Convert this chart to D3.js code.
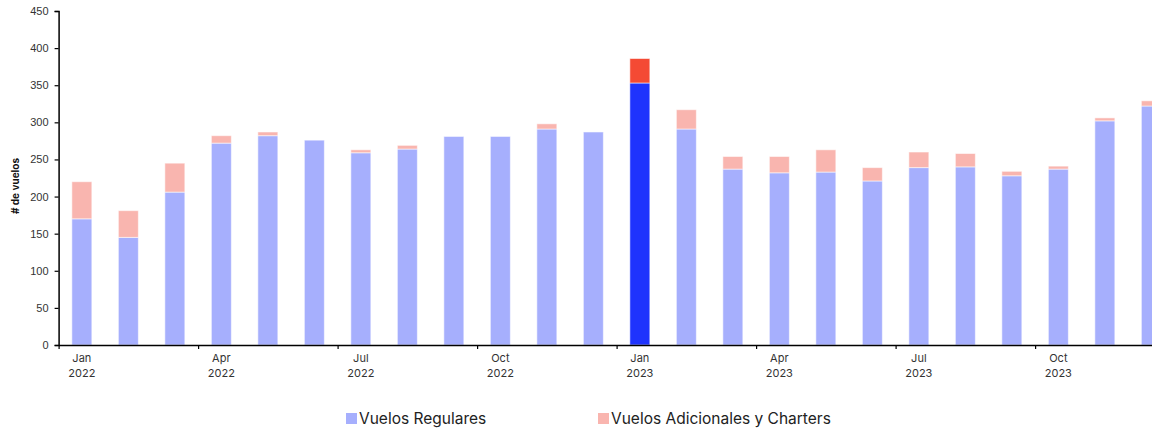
<!DOCTYPE HTML>
<html lang="es">
<head>
<meta charset="utf-8" />
<title>Vuelos</title>
<style>
  body { margin: 0; background: #fff; }
  svg { display: block; font-family: Inter, "DejaVu Sans", sans-serif; }
</style>
</head>
<body>
<div id="chart"></div>
<script src="https://d3js.org/d3.v7.min.js"></script>
<script>
const meses = ["2022-01","2022-02","2022-03","2022-04","2022-05","2022-06","2022-07","2022-08","2022-09","2022-10","2022-11","2022-12",
               "2023-01","2023-02","2023-03","2023-04","2023-05","2023-06","2023-07","2023-08","2023-09","2023-10","2023-11","2023-12"];
const regulares =   [170, 145, 206, 272, 282, 276, 259, 264, 281, 281, 291, 287,
                     353, 291, 237, 232, 233, 221, 239, 240, 228, 237, 302, 322];
const adicionales = [50, 36, 39, 10, 5, 0, 4, 5, 0, 0, 7, 0,
                     33, 26, 17, 22, 30, 18, 21, 18, 6, 4, 4, 7];
const destacado = "2023-01";
const yTicks = [0, 50, 100, 150, 200, 250, 300, 350, 400, 450];
const mesNombre = { "01": "Jan", "04": "Apr", "07": "Jul", "10": "Oct" };
const series = ["Vuelos Regulares", "Vuelos Adicionales y Charters"];

const width = 1152, height = 430;
const mLeft = 58.6, step = 46.5;
const yTop = 11, yBottom = 345;

const colores = { reg: "#a6affd", adi: "#f9b5af", regD: "#1f33fd", adiD: "#f44a34" };

const svg = d3.select("#chart").append("svg")
    .attr("width", width).attr("height", height);

const xIdx = d3.scaleLinear().domain([0, meses.length]).range([mLeft, mLeft + step * meses.length]);
const x = d3.scaleBand().domain(meses)
    .range([mLeft, mLeft + step * meses.length])
    .paddingInner(0.57).paddingOuter(0.285);
const y = d3.scaleLinear().domain([0, 450]).range([yBottom, yTop]);

const data = meses.map((m, i) => ({ mes: m, reg: regulares[i], adi: adicionales[i] }));

// barras
const g = svg.append("g");
data.forEach(d => {
    const hi = d.mes === destacado;
    g.append("rect")
        .attr("x", x(d.mes)).attr("width", x.bandwidth())
        .attr("y", y(d.reg)).attr("height", y(0) - y(d.reg))
        .attr("fill", hi ? colores.regD : colores.reg)
        .attr("stroke", "rgba(255,255,255,0.55)").attr("stroke-width", 1);
    if (d.adi > 0) {
        g.append("rect")
            .attr("x", x(d.mes)).attr("width", x.bandwidth())
            .attr("y", y(d.reg + d.adi)).attr("height", y(d.reg) - y(d.reg + d.adi))
            .attr("fill", hi ? colores.adiD : colores.adi)
            .attr("stroke", "rgba(255,255,255,0.55)").attr("stroke-width", 1);
    }
});

// eje y
const yAxis = svg.append("g")
    .attr("transform", `translate(${mLeft},0)`)
    .call(d3.axisLeft(y).tickValues(yTicks).tickSize(4).tickPadding(6));
yAxis.select(".domain").attr("stroke", "#000").attr("stroke-width", 1.5);
yAxis.selectAll(".tick line").attr("stroke", "#000").attr("stroke-width", 1.2);
yAxis.selectAll(".tick text").attr("fill", "#333").style("font-size", "11px");

// eje x
const quarterIdx = meses.map((m, i) => i).filter(i => mesNombre[meses[i].slice(5)]);
const xAxis = svg.append("g")
    .attr("transform", `translate(0,${yBottom})`)
    .call(d3.axisBottom(xIdx).tickValues(quarterIdx).tickSize(4).tickSizeOuter(0).tickFormat(""));
xAxis.select(".domain").attr("stroke", "#000").attr("stroke-width", 1.5);
xAxis.selectAll(".tick line").attr("stroke", "#000").attr("stroke-width", 1.2);

const xl = svg.append("g").attr("fill", "#333").style("font-size", "11px").attr("text-anchor", "middle");
quarterIdx.forEach(i => {
    const cx = xIdx(i + 0.5);
    xl.append("text").attr("x", cx).attr("y", yBottom + 17).text(mesNombre[meses[i].slice(5)]);
    xl.append("text").attr("x", cx).attr("y", yBottom + 32).text(meses[i].slice(0, 4));
});

// título eje y
svg.append("text")
    .attr("transform", `translate(19,${(yTop + yBottom) / 2 + 8}) rotate(-90)`)
    .attr("text-anchor", "middle")
    .style("font-size", "10px").style("font-weight", "bold")
    .attr("fill", "#111")
    .text("# de vuelos");

// leyenda
const leg = svg.append("g").style("font-size", "15.5px").attr("fill", "#222");
const legPos = [346, 598];
series.forEach((s, i) => {
    leg.append("rect").attr("x", legPos[i]).attr("y", 413).attr("width", 11).attr("height", 11)
        .attr("fill", i === 0 ? colores.reg : colores.adi);
    leg.append("text").attr("x", legPos[i] + 13).attr("y", 424).text(s);
});
</script>
</body>
</html>
